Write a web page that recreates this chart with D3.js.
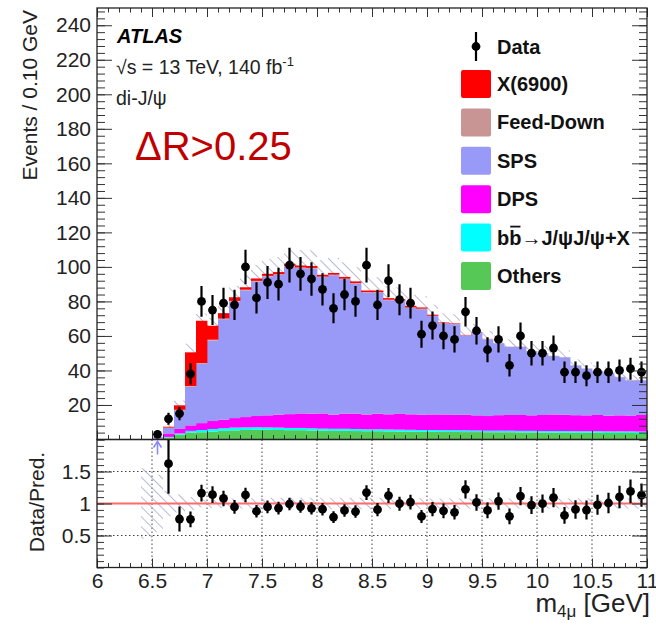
<!DOCTYPE html>
<html>
<head>
<meta charset="utf-8">
<script src="https://cdn.jsdelivr.net/npm/d3@7"></script>
<style>
  body { margin: 0; background: #fff; }
  text { font-family: "Liberation Sans", Arial, Helvetica, sans-serif; }
</style>
</head>
<body>
<svg id="chart" width="656" height="631"></svg>
<script>
// Bin centres of the four-muon invariant mass histogram (0.1 GeV bins)
const massBins = [6.45, 6.55, 6.65, 6.75, 6.85, 6.95, 7.05, 7.15, 7.25, 7.35, 7.45, 7.55, 7.65, 7.75, 7.85, 7.95,
  8.05, 8.15, 8.25, 8.35, 8.45, 8.55, 8.65, 8.75, 8.85, 8.95, 9.05, 9.15, 9.25, 9.35, 9.45, 9.55, 9.65, 9.75, 9.85, 9.95,
  10.05, 10.15, 10.25, 10.35, 10.45, 10.55, 10.65, 10.75, 10.85, 10.95];
const binWidth = 0.1;

// Observed events per bin
const dataEvents = [null, 3, 12, 15, 38, 80, 75, 79, 78, 100, 82, 91, 90, 101, 96, 93,
  87, 76, 84, 80, 101, 78, 92, 81, 79, 61, 66, 60, 58, 74, 63, 52, 58, 43, 60, 50,
  50, 53, 39, 39, 37, 39, 39, 40, 41, 39];

// Stacked prediction components (events per bin), bottom to top
const others = [0, 0.2, 1.2, 2.8, 4.0, 4.2, 4.6, 5.0, 5.3, 5.5, 5.6, 5.6, 5.5, 5.4, 5.4, 5.2,
  5.1, 5.0, 5.0, 4.9, 4.8, 4.8, 4.7, 4.6, 4.6, 4.5, 4.5, 4.4, 4.4, 4.3, 4.3, 4.2, 4.2, 4.2, 4.1, 4.1,
  4.0, 4.0, 4.0, 3.9, 3.9, 3.9, 3.8, 3.8, 3.8, 3.7];
const bbToJpsiJpsi = [0, 0, 0.3, 0.7, 1.0, 1.3, 1.5, 1.5, 1.6, 1.5, 1.5, 1.4, 1.4, 1.3, 1.3, 1.3,
  1.2, 1.2, 1.2, 1.2, 1.1, 1.1, 1.1, 1.1, 1.0, 1.0, 1.0, 1.0, 1.0, 1.0, 0.9, 0.9, 0.9, 0.9, 0.9, 0.9,
  0.9, 0.9, 0.9, 0.9, 0.9, 0.9, 0.9, 0.9, 0.9, 0.9];
const dps = [0, 0.4, 2.0, 2.6, 3.2, 4.0, 4.6, 5.0, 5.5, 6.0, 6.5, 7.0, 7.5, 8.0, 8.4, 8.5,
  8.8, 8.2, 8.8, 8.9, 8.6, 9.0, 8.8, 9.1, 9.0, 8.9, 9.0, 9.1, 8.9, 9.0, 8.8, 8.5, 9.0, 9.1, 9.2, 9.0,
  9.3, 9.6, 9.4, 9.3, 9.2, 9.4, 9.1, 9.3, 9.2, 9.6];
const sps = [0, 0.7, 3.2, 10.8, 22.4, 34.4, 46.7, 58.2, 67.5, 73.4, 77.9, 80.4, 81.0, 85.5, 84.2, 84.0,
  79.0, 80.8, 77.9, 75.3, 70.6, 70.2, 66.1, 65.4, 61.6, 61.1, 57.0, 52.7, 52.5, 45.9, 47.6, 44.4, 41.6, 39.4, 39.4, 37.1,
  35.7, 33.8, 33.3, 28.7, 27.0, 25.4, 24.7, 22.1, 20.4, 20.1];
const feedDown = [0, 0, 0.2, 0.3, 0.4, 0.4, 0.4, 0.4, 0.4, 0.4, 0.4, 0.4, 0.4, 0.4, 0.4, 0.4,
  0.3, 0.3, 0.3, 0.3, 0.3, 0.3, 0.3, 0.3, 0.3, 0.3, 0.2, 0.2, 0.2, 0.2, 0.2, 0.2, 0.2, 0.2, 0.2, 0.2,
  0.2, 0.2, 0.2, 0.2, 0.2, 0.2, 0.2, 0.2, 0.2, 0.2];
const x6900 = [0, 0, 0.5, 2.6, 19.5, 24.5, 8.1, 3.1, 2.1, 1.4, 1.4, 1.2, 1.2, 1.2, 1.1, 1.1,
  1.0, 1.0, 1.0, 1.0, 0.9, 0.9, 0.9, 0.8, 0.8, 0.7, 0.6, 0.4, 0.3, 0.2, 0.2, 0.1, 0, 0, 0, 0,
  0, 0, 0, 0, 0, 0, 0, 0, 0, 0];

// Relative uncertainty of the total prediction per bin
const relUncertainty = [0.55, 0.45, 0.2, 0.14, 0.1, 0.06, 0.07, 0.07, 0.08, 0.08, 0.085, 0.09, 0.09, 0.09, 0.09, 0.09,
  0.09, 0.09, 0.09, 0.09, 0.09, 0.09, 0.085, 0.085, 0.085, 0.085, 0.08, 0.08, 0.08, 0.08, 0.08, 0.08, 0.08, 0.08, 0.08, 0.08,
  0.08, 0.08, 0.08, 0.08, 0.08, 0.08, 0.08, 0.08, 0.08, 0.08];

// Axis ticks
const xTickValues = [6, 6.5, 7, 7.5, 8, 8.5, 9, 9.5, 10, 10.5, 11];
const xTickLabels = ["6", "6.5", "7", "7.5", "8", "8.5", "9", "9.5", "10", "10.5", "11"];
const yTickValues = [20, 40, 60, 80, 100, 120, 140, 160, 180, 200, 220, 240];
const ratioTickValues = [0.5, 1, 1.5];
const ratioTickLabels = ["0.5", "1", "1.5"];

// Legend
const legendLabels = ["X(6900)", "Feed-Down", "SPS", "DPS", "bb\u2192J/\u03c8J/\u03c8+X", "Others"];
const legendColors = ["#ff0000", "#c99494", "#9999f7", "#ff00ff", "#00ffff", "#55c855"];

// ---------------------------------------------------------------
const svg = d3.select("#chart");
const X0 = 97, X1 = 647;
const MAIN_TOP = 8, MAIN_BOTTOM = 439.5, RATIO_BOTTOM = 567.5;

const x = d3.scaleLinear().domain([6, 11]).range([X0, X1]);
const y = d3.scaleLinear().domain([0, 250]).range([MAIN_BOTTOM, MAIN_TOP]);
const r = d3.scaleLinear().domain([0, 2]).range([RATIO_BOTTOM, MAIN_BOTTOM]);

const keys = ["others", "bb", "dps", "sps", "feed", "x6900"];
const colorOf = { x6900: legendColors[0], feed: legendColors[1], sps: legendColors[2],
  dps: legendColors[3], bb: legendColors[4], others: legendColors[5] };

const rows = massBins.map((m, i) => ({
  mass: m, others: others[i], bb: bbToJpsiJpsi[i], dps: dps[i], sps: sps[i],
  feed: feedDown[i], x6900: x6900[i], data: dataEvents[i], rel: relUncertainty[i]
}));
rows.forEach(d => { d.total = keys.reduce((s, k) => s + d[k], 0); });

const defs = svg.append("defs");
const hatch = defs.append("pattern").attr("id", "hatch")
  .attr("patternUnits", "userSpaceOnUse").attr("width", 7).attr("height", 7)
  .attr("patternTransform", "rotate(-45)");
hatch.append("line").attr("x1", 0).attr("y1", 0).attr("x2", 0).attr("y2", 7)
  .attr("stroke", "#9c9cc8").attr("stroke-width", 1.4);

defs.append("clipPath").attr("id", "clipMain").append("rect")
  .attr("x", X0).attr("y", MAIN_TOP).attr("width", X1 - X0).attr("height", MAIN_BOTTOM - MAIN_TOP);
defs.append("clipPath").attr("id", "clipRatio").append("rect")
  .attr("x", X0).attr("y", MAIN_BOTTOM).attr("width", X1 - X0).attr("height", RATIO_BOTTOM - MAIN_BOTTOM);

// ---------------- main panel ----------------
const main = svg.append("g").attr("clip-path", "url(#clipMain)");

// uncertainty band on the total prediction
main.append("g").selectAll("rect").data(rows.filter(d => d.total > 0)).join("rect")
  .attr("x", d => x(d.mass - binWidth / 2))
  .attr("width", d => x(d.mass + binWidth / 2) - x(d.mass - binWidth / 2))
  .attr("y", d => y(d.total * (1 + d.rel)))
  .attr("height", d => y(d.total * (1 - d.rel)) - y(d.total * (1 + d.rel)))
  .attr("fill", "url(#hatch)");

// stacked histogram
const series = d3.stack().keys(keys)(rows);
main.append("g").selectAll("g").data(series).join("g")
  .attr("fill", s => colorOf[s.key])
  .selectAll("rect").data(s => s.filter(p => p[1] > p[0])).join("rect")
  .attr("x", p => x(p.data.mass - binWidth / 2))
  .attr("width", p => x(p.data.mass + binWidth / 2) - x(p.data.mass - binWidth / 2) + 0.4)
  .attr("y", p => y(p[1]))
  .attr("height", p => y(p[0]) - y(p[1]));

// data points with Poisson errors
const pts = rows.filter(d => d.data !== null);
const dataG = main.append("g");
dataG.selectAll("line").data(pts).join("line")
  .attr("x1", d => x(d.mass)).attr("x2", d => x(d.mass))
  .attr("y1", d => y(d.data + Math.sqrt(d.data)))
  .attr("y2", d => y(Math.max(0, d.data - Math.sqrt(d.data))))
  .attr("stroke", "#000").attr("stroke-width", 2.2);
dataG.selectAll("circle").data(pts).join("circle")
  .attr("cx", d => x(d.mass)).attr("cy", d => y(d.data)).attr("r", 4.4).attr("fill", "#000");

// ---------------- ratio panel ----------------
const ratio = svg.append("g").attr("clip-path", "url(#clipRatio)");

// dotted grid
const gridStyle = g => g.attr("stroke", "#444").attr("stroke-width", 1).attr("stroke-dasharray", "1.5,2.5");
ratio.append("g").call(gridStyle).selectAll("line")
  .data(xTickValues.filter(v => v > 6 && v < 11)).join("line")
  .attr("x1", d => x(d)).attr("x2", d => x(d)).attr("y1", MAIN_BOTTOM).attr("y2", RATIO_BOTTOM);
ratio.append("g").call(gridStyle).selectAll("line")
  .data(ratioTickValues).join("line")
  .attr("x1", X0).attr("x2", X1).attr("y1", d => r(d)).attr("y2", d => r(d));

// relative uncertainty band
ratio.append("g").selectAll("rect").data(rows).join("rect")
  .attr("x", d => x(d.mass - binWidth / 2))
  .attr("width", d => x(d.mass + binWidth / 2) - x(d.mass - binWidth / 2))
  .attr("y", d => r(1 + d.rel))
  .attr("height", d => r(1 - d.rel) - r(1 + d.rel))
  .attr("fill", "url(#hatch)");

ratio.append("line").attr("x1", X0).attr("x2", X1).attr("y1", r(1)).attr("y2", r(1))
  .attr("stroke", "#ff6b6b").attr("stroke-width", 2);

const ratioPts = pts.filter(d => d.total > 0).map(d => ({
  mass: d.mass, val: d.data / d.total, err: Math.sqrt(d.data) / d.total
}));
const inRange = ratioPts.filter(d => d.val <= 2);
const overflow = ratioPts.filter(d => d.val > 2);
ratio.append("g").selectAll("line").data(inRange).join("line")
  .attr("x1", d => x(d.mass)).attr("x2", d => x(d.mass))
  .attr("y1", d => r(d.val + d.err)).attr("y2", d => r(Math.max(0, d.val - d.err)))
  .attr("stroke", "#000").attr("stroke-width", 2.2);
ratio.append("g").selectAll("circle").data(inRange).join("circle")
  .attr("cx", d => x(d.mass)).attr("cy", d => r(d.val)).attr("r", 4.4).attr("fill", "#000");

// off-scale ratio marker
const arrows = ratio.append("g").attr("stroke", "#8a8aff").attr("stroke-width", 1.6).attr("fill", "none");
overflow.forEach(d => {
  const cx = x(d.mass);
  arrows.append("line").attr("x1", cx).attr("x2", cx).attr("y1", r(2) + 2).attr("y2", r(2) + 15);
  arrows.append("path").attr("d", `M${cx - 4},${r(2) + 8}L${cx},${r(2) + 2}L${cx + 4},${r(2) + 8}`);
});

// ---------------- axes ----------------
const tickStyle = g => {
  g.select(".domain").remove();
  g.selectAll(".tick line").attr("stroke", "#333").attr("stroke-width", 1);
  g.selectAll(".tick text").attr("fill", "#222").attr("font-size", 21)
    .attr("font-family", "'Liberation Sans', Arial, sans-serif");
};
const minorX = d3.range(6, 11.001, 0.1);
const minorY = d3.range(0, 250.001, 4);
const minorR = d3.range(0, 2.001, 0.1);

// main panel y axis (left / right)
svg.append("g").attr("transform", `translate(${X0},0)`)
  .call(d3.axisLeft(y).tickValues(yTickValues).tickSize(-15).tickPadding(6).tickFormat(d3.format("d"))).call(tickStyle);
svg.append("g").attr("transform", `translate(${X0},0)`)
  .call(d3.axisLeft(y).tickValues(minorY).tickSize(-8).tickFormat("")).call(tickStyle);
svg.append("g").attr("transform", `translate(${X1},0)`)
  .call(d3.axisRight(y).tickValues(yTickValues).tickSize(-15).tickFormat("")).call(tickStyle);
svg.append("g").attr("transform", `translate(${X1},0)`)
  .call(d3.axisRight(y).tickValues(minorY).tickSize(-8).tickFormat("")).call(tickStyle);

// main panel x ticks (top and bottom)
svg.append("g").attr("transform", `translate(0,${MAIN_BOTTOM})`)
  .call(d3.axisBottom(x).tickValues(xTickValues).tickSize(-9).tickFormat("")).call(tickStyle);
svg.append("g").attr("transform", `translate(0,${MAIN_BOTTOM})`)
  .call(d3.axisBottom(x).tickValues(minorX).tickSize(-4.5).tickFormat("")).call(tickStyle);
svg.append("g").attr("transform", `translate(0,${MAIN_TOP})`)
  .call(d3.axisTop(x).tickValues(xTickValues).tickSize(-9).tickFormat("")).call(tickStyle);
svg.append("g").attr("transform", `translate(0,${MAIN_TOP})`)
  .call(d3.axisTop(x).tickValues(minorX).tickSize(-4.5).tickFormat("")).call(tickStyle);

// ratio panel axes
svg.append("g").attr("transform", `translate(${X0},0)`)
  .call(d3.axisLeft(r).tickValues(ratioTickValues).tickSize(-15).tickPadding(6)
    .tickFormat((d, i) => ratioTickLabels[i])).call(tickStyle);
svg.append("g").attr("transform", `translate(${X0},0)`)
  .call(d3.axisLeft(r).tickValues(minorR).tickSize(-7).tickFormat("")).call(tickStyle);
svg.append("g").attr("transform", `translate(${X1},0)`)
  .call(d3.axisRight(r).tickValues(ratioTickValues).tickSize(-15).tickFormat("")).call(tickStyle);
svg.append("g").attr("transform", `translate(${X1},0)`)
  .call(d3.axisRight(r).tickValues(minorR).tickSize(-7).tickFormat("")).call(tickStyle);
svg.append("g").attr("transform", `translate(0,${RATIO_BOTTOM})`)
  .call(d3.axisBottom(x).tickValues(xTickValues).tickSize(-9).tickPadding(6)
    .tickFormat((d, i) => xTickLabels[i])).call(tickStyle);
svg.append("g").attr("transform", `translate(0,${RATIO_BOTTOM})`)
  .call(d3.axisBottom(x).tickValues(minorX).tickSize(-4.5).tickFormat("")).call(tickStyle);

// frames
svg.append("rect").attr("x", X0).attr("y", MAIN_TOP).attr("width", X1 - X0).attr("height", MAIN_BOTTOM - MAIN_TOP)
  .attr("fill", "none").attr("stroke", "#222").attr("stroke-width", 1.3);
svg.append("rect").attr("x", X0).attr("y", MAIN_BOTTOM).attr("width", X1 - X0).attr("height", RATIO_BOTTOM - MAIN_BOTTOM)
  .attr("fill", "none").attr("stroke", "#222").attr("stroke-width", 1.3);

// axis titles
svg.append("text").attr("transform", "translate(37,10) rotate(-90)")
  .attr("text-anchor", "end").attr("font-size", 21).attr("fill", "#222").text("Events / 0.10 GeV");
svg.append("text").attr("transform", "translate(44,502) rotate(-90)")
  .attr("text-anchor", "middle").attr("font-size", 21).attr("fill", "#222").text("Data/Pred.");
const xTitle = svg.append("text").attr("x", 650).attr("y", 612).attr("text-anchor", "end")
  .attr("font-size", 26).attr("fill", "#222");
xTitle.append("tspan").text("m");
xTitle.append("tspan").attr("font-size", 17).attr("dy", 5).text("4\u03bc");
xTitle.append("tspan").attr("dy", -5).text(" [GeV]");

// labels in the upper left
svg.append("text").attr("x", 117).attr("y", 43).attr("font-size", 20).attr("font-weight", "bold")
  .attr("font-style", "italic").attr("fill", "#000").text("ATLAS");
const lumi = svg.append("text").attr("x", 116).attr("y", 74).attr("font-size", 19.5).attr("fill", "#222");
lumi.append("tspan").text("\u221as = 13 TeV, 140 fb");
lumi.append("tspan").attr("font-size", 13).attr("dy", -8).text("-1");
svg.append("text").attr("x", 116).attr("y", 105).attr("font-size", 19.5).attr("fill", "#222").text("di-J/\u03c8");
svg.append("text").attr("x", 135).attr("y", 160).attr("font-size", 40).attr("fill", "#c00000").text("\u0394R>0.25");

// legend
const legend = svg.append("g");
legend.append("line").attr("x1", 476).attr("x2", 476).attr("y1", 32).attr("y2", 61)
  .attr("stroke", "#000").attr("stroke-width", 2.2);
legend.append("circle").attr("cx", 476).attr("cy", 46.5).attr("r", 4.4).attr("fill", "#000");
legend.append("text").attr("x", 497).attr("y", 53.5).attr("font-size", 20).attr("font-weight", "bold")
  .attr("fill", "#111").text("Data");
legendLabels.forEach((label, i) => {
  const cy = 84 + i * 38.4;
  legend.append("rect").attr("x", 461).attr("y", cy - 14).attr("width", 30).attr("height", 28)
    .attr("rx", 2).attr("fill", legendColors[i]);
  const t = legend.append("text").attr("x", 497).attr("y", cy + 7).attr("font-size", 20)
    .attr("font-weight", "bold").attr("fill", "#111").text(label);
  if (label.startsWith("bb")) {
    const node = t.node();
    const a = node.getStartPositionOfChar(1).x, b = node.getEndPositionOfChar(1).x;
    legend.append("line").attr("x1", a + 1).attr("x2", b - 1).attr("y1", cy - 11).attr("y2", cy - 11)
      .attr("stroke", "#111").attr("stroke-width", 1.8);
  }
});
</script>
</body>
</html>
